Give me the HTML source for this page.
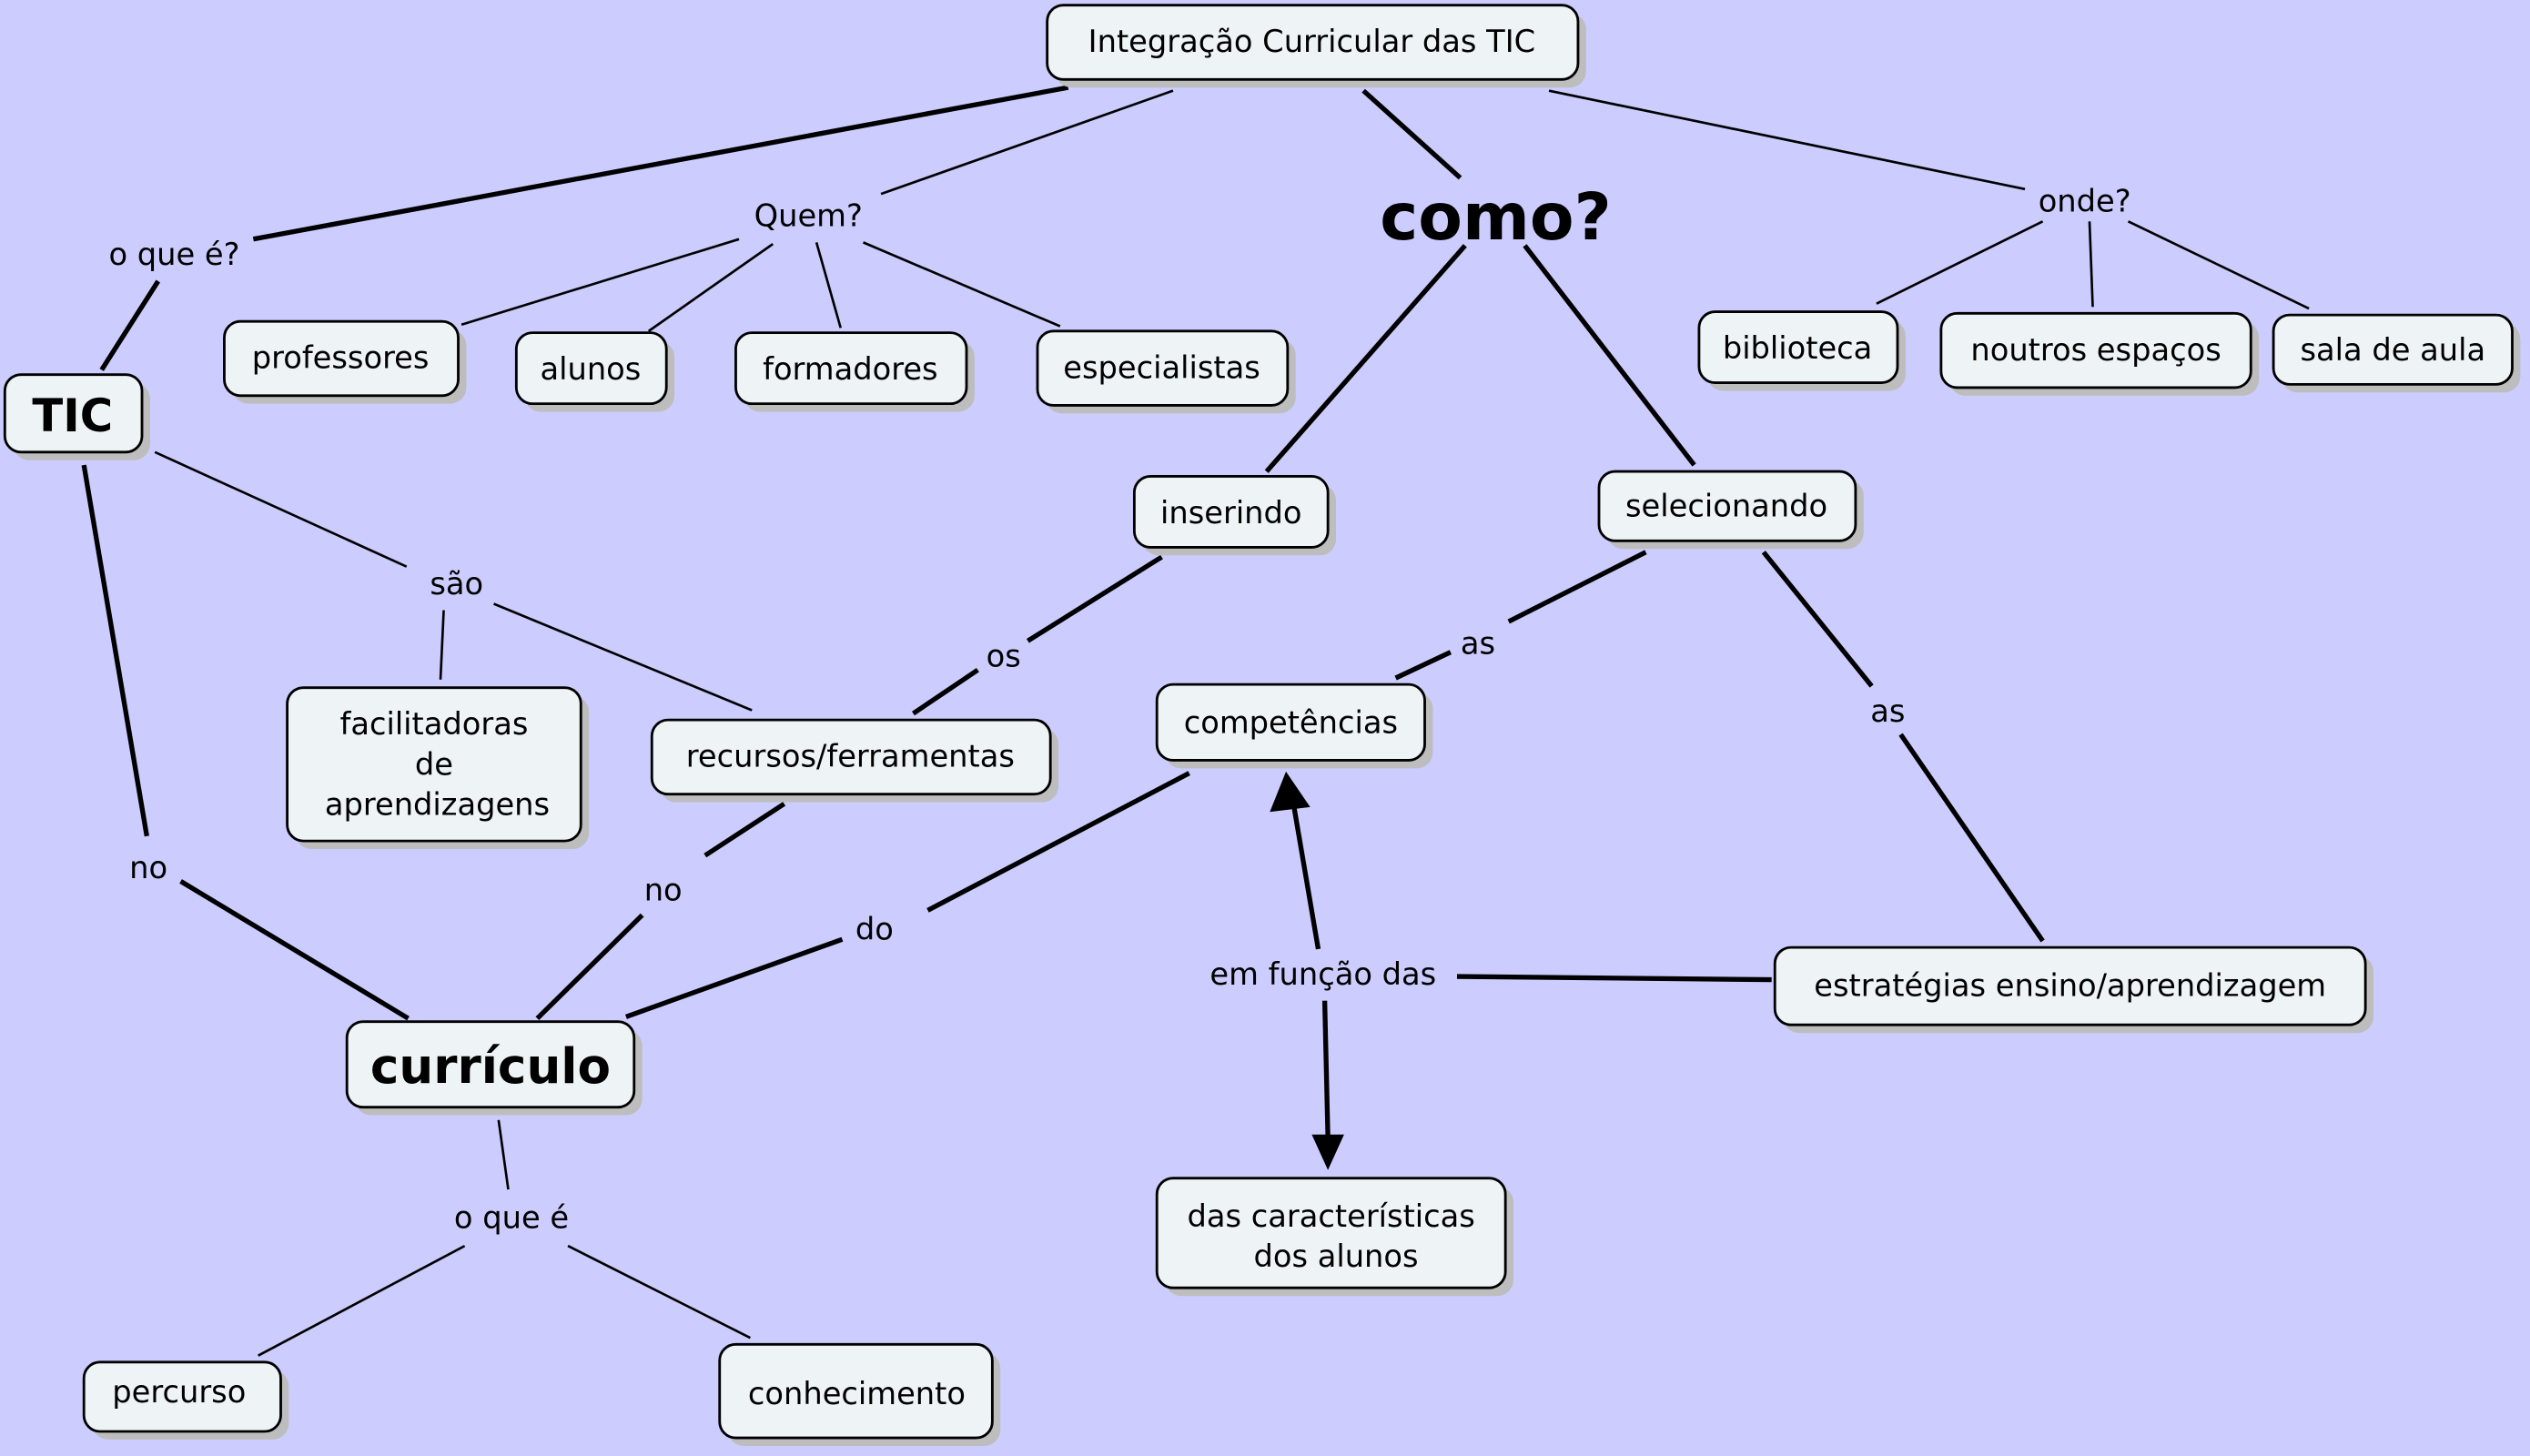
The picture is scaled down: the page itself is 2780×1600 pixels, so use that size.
<!DOCTYPE html>
<html><head><meta charset="utf-8"><style>
html,body{margin:0;padding:0;background:#ccccff;}
svg{display:block}
text{font-family:"DejaVu Sans","Liberation Sans",sans-serif;fill:#000;}
</style></head><body>
<svg width="2780" height="1600" viewBox="0 0 1568 902" xmlns="http://www.w3.org/2000/svg">
<rect width="1568" height="902" fill="#ccccff"/>
<g stroke="#000" stroke-width="3" stroke-linecap="butt" fill="none">
<line x1="662" y1="54" x2="157" y2="148"/>
<line x1="98" y1="174" x2="63" y2="229"/>
<line x1="845" y1="56" x2="905" y2="110"/>
<line x1="908" y1="152" x2="785" y2="292"/>
<line x1="945" y1="152" x2="1050" y2="288"/>
<line x1="720" y1="345" x2="637" y2="397"/>
<line x1="606" y1="415" x2="566" y2="442"/>
<line x1="1020" y1="342" x2="935" y2="385"/>
<line x1="899" y1="404" x2="865" y2="420"/>
<line x1="1093" y1="342" x2="1160" y2="425"/>
<line x1="1178" y1="455" x2="1266" y2="583"/>
<line x1="486" y1="498" x2="437" y2="530"/>
<line x1="398" y1="567" x2="333" y2="631"/>
<line x1="737" y1="479" x2="575" y2="564"/>
<line x1="522" y1="582" x2="388" y2="630"/>
<line x1="112" y1="546" x2="253" y2="631"/>
<line x1="52" y1="288" x2="91" y2="518"/>
<line x1="817" y1="588" x2="802" y2="500"/>
<line x1="821" y1="620" x2="823" y2="705"/>
<line x1="903" y1="605" x2="1098" y2="607"/>
</g>
<g stroke="#000" stroke-width="1.5" fill="none">
<line x1="727" y1="56" x2="546" y2="120"/>
<line x1="960" y1="56" x2="1255" y2="117"/>
<line x1="458" y1="148" x2="286" y2="201"/>
<line x1="479" y1="151" x2="402" y2="205"/>
<line x1="506" y1="150" x2="521" y2="203"/>
<line x1="535" y1="150" x2="657" y2="202"/>
<line x1="1266" y1="137" x2="1163" y2="188"/>
<line x1="1295" y1="137" x2="1297" y2="190"/>
<line x1="1319" y1="137" x2="1431" y2="191"/>
<line x1="96" y1="280" x2="252" y2="351"/>
<line x1="306" y1="374" x2="466" y2="440"/>
<line x1="275" y1="378" x2="273" y2="421"/>
<line x1="309" y1="694" x2="315" y2="737"/>
<line x1="288" y1="772" x2="160" y2="840"/>
<line x1="352" y1="772" x2="465" y2="829"/>
</g>
<polygon points="797,478 787,503 812,500" fill="#000"/>
<polygon points="823,725 813,703 833,703" fill="#000"/>
<g fill="#bdbdbd">
<rect x="654" y="8" width="329" height="46" rx="10"/>
<rect x="8" y="237" width="85" height="48" rx="10"/>
<rect x="144" y="204" width="145" height="46" rx="10"/>
<rect x="325" y="211" width="93" height="44" rx="10"/>
<rect x="461" y="211" width="143" height="44" rx="10"/>
<rect x="648" y="210" width="155" height="46" rx="10"/>
<rect x="1058" y="198" width="123" height="44" rx="10"/>
<rect x="1208" y="199" width="192" height="46" rx="10"/>
<rect x="1414" y="200" width="148" height="43" rx="10"/>
<rect x="708" y="300" width="120" height="44" rx="10"/>
<rect x="996" y="297" width="159" height="43" rx="10"/>
<rect x="183" y="431" width="182" height="95" rx="10"/>
<rect x="409" y="451" width="247" height="46" rx="10"/>
<rect x="722" y="429" width="166" height="47" rx="10"/>
<rect x="1105" y="592" width="366" height="48" rx="10"/>
<rect x="220" y="638" width="178" height="53" rx="10"/>
<rect x="722" y="735" width="216" height="68" rx="10"/>
<rect x="57" y="849" width="122" height="43" rx="10"/>
<rect x="451" y="838" width="169" height="58" rx="10"/>
</g>
<g fill="#eef3f5" stroke="#000" stroke-width="1.6">
<rect x="649" y="3" width="329" height="46" rx="10"/>
<rect x="3" y="232" width="85" height="48" rx="10"/>
<rect x="139" y="199" width="145" height="46" rx="10"/>
<rect x="320" y="206" width="93" height="44" rx="10"/>
<rect x="456" y="206" width="143" height="44" rx="10"/>
<rect x="643" y="205" width="155" height="46" rx="10"/>
<rect x="1053" y="193" width="123" height="44" rx="10"/>
<rect x="1203" y="194" width="192" height="46" rx="10"/>
<rect x="1409" y="195" width="148" height="43" rx="10"/>
<rect x="703" y="295" width="120" height="44" rx="10"/>
<rect x="991" y="292" width="159" height="43" rx="10"/>
<rect x="178" y="426" width="182" height="95" rx="10"/>
<rect x="404" y="446" width="247" height="46" rx="10"/>
<rect x="717" y="424" width="166" height="47" rx="10"/>
<rect x="1100" y="587" width="366" height="48" rx="10"/>
<rect x="215" y="633" width="178" height="53" rx="10"/>
<rect x="717" y="730" width="216" height="68" rx="10"/>
<rect x="52" y="844" width="122" height="43" rx="10"/>
<rect x="446" y="833" width="169" height="58" rx="10"/>
</g>
<g font-size="19" text-anchor="middle">
<text x="813" y="32">Integração Curricular das TIC</text>
<text x="45" y="267" font-size="28" font-weight="bold">TIC</text>
<text x="211" y="228">professores</text>
<text x="366" y="235">alunos</text>
<text x="527" y="235">formadores</text>
<text x="720" y="234">especialistas</text>
<text x="1114" y="222">biblioteca</text>
<text x="1299" y="223">noutros espaços</text>
<text x="1483" y="223">sala de aula</text>
<text x="763" y="324">inserindo</text>
<text x="1070" y="320">selecionando</text>
<text x="269" y="455">facilitadoras</text>
<text x="269" y="480">de</text>
<text x="271" y="505">aprendizagens</text>
<text x="527" y="475">recursos/ferramentas</text>
<text x="800" y="454">competências</text>
<text x="1283" y="617">estratégias ensino/aprendizagem</text>
<text x="304" y="671" font-size="30" font-weight="bold">currículo</text>
<text x="825" y="760">das características</text>
<text x="828" y="785">dos alunos</text>
<text x="111" y="869">percurso</text>
<text x="531" y="870">conhecimento</text>
<text x="108" y="164">o que é?</text>
<text x="501" y="140">Quem?</text>
<text x="927" y="148" font-size="40" font-weight="bold">como?</text>
<text x="1292" y="131">onde?</text>
<text x="283" y="368">são</text>
<text x="622" y="413">os</text>
<text x="916" y="405">as</text>
<text x="1170" y="447">as</text>
<text x="92" y="544">no</text>
<text x="411" y="558">no</text>
<text x="542" y="582">do</text>
<text x="820" y="610">em função das</text>
<text x="317" y="761">o que é</text>
</g>
</svg>
</body></html>
